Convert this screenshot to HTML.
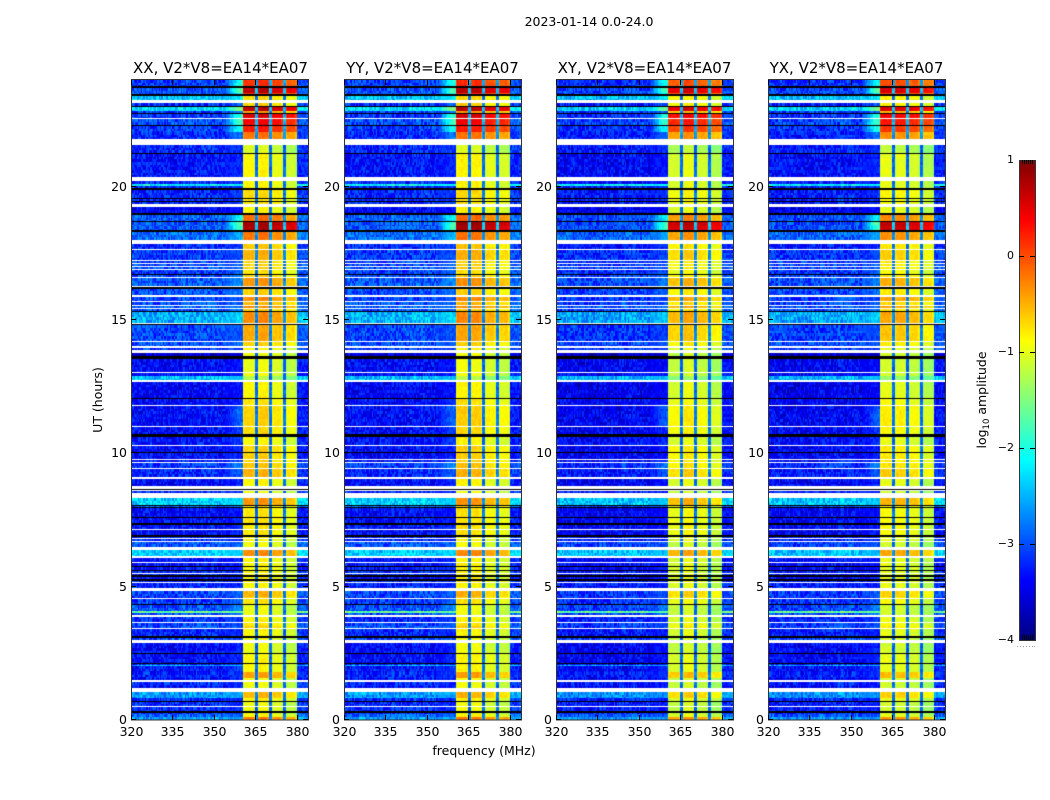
<!DOCTYPE html>
<html>
<head>
<meta charset="utf-8">
<title>2023-01-14 0.0-24.0</title>
<style>
html,body{margin:0;padding:0;background:#fff;}
#fig{position:relative;width:1050px;height:800px;overflow:hidden;background:#fff;}
canvas{position:absolute;display:block;}
svg{position:absolute;left:0;top:0;}
text{font-family:"DejaVu Sans",sans-serif;fill:#000;}
</style>
</head>
<body>
<div id="fig">
<canvas id="hm0" width="177" height="640" style="left:131px;top:80px"></canvas>
<canvas id="hm1" width="177" height="640" style="left:344px;top:80px"></canvas>
<canvas id="hm2" width="177" height="640" style="left:556px;top:80px"></canvas>
<canvas id="hm3" width="177" height="640" style="left:768px;top:80px"></canvas>
<canvas id="cbar" width="16" height="480" style="left:1019px;top:160px"></canvas>
<svg id="ov" width="1050" height="800" xmlns="http://www.w3.org/2000/svg">
<text x="589" y="26" font-size="12.5" text-anchor="middle">2023-01-14 0.0-24.0</text>
<text x="220.5" y="73" font-size="15" text-anchor="middle">XX, V2*V8=EA14*EA07</text>
<text x="432.5" y="73" font-size="15" text-anchor="middle">YY, V2*V8=EA14*EA07</text>
<text x="644.5" y="73" font-size="15" text-anchor="middle">XY, V2*V8=EA14*EA07</text>
<text x="856.5" y="73" font-size="15" text-anchor="middle">YX, V2*V8=EA14*EA07</text>
<text x="484" y="755" font-size="12.5" text-anchor="middle">frequency (MHz)</text>
<text transform="translate(102,400) rotate(-90)" font-size="12.5" text-anchor="middle">UT (hours)</text>
<text transform="translate(986,400) rotate(-90)" font-size="12.5" text-anchor="middle">log<tspan font-size="8.5" dy="3">10</tspan><tspan dy="-3"> amplitude</tspan></text>
</svg>
</div>
<script>
// ---- data ----
const W = null, K = -9; // W: flagged (white) rows, K: zero-amplitude (black) rows
const panelNames = ['xx', 'yy', 'xy', 'yx'];
const xTickLabels = [320, 335, 350, 365, 380];
const yTickLabels = [0, 5, 10, 15, 20];
const colorbarTicks = [1, 0, -1, -2, -3, -4];
// lower edge (hours) of each time row, from the top of the plot downward
const rowLow = [
23.76,23.70,23.51,23.46,23.40,23.25,23.14,23.03,22.97,22.84,
22.76,22.71,22.59,22.52,22.33,22.28,22.05,21.77,21.56,21.28,
21.23,20.36,20.21,20.10,20.03,19.95,19.88,19.59,19.55,19.46,
19.43,19.35,19.24,19.01,18.94,18.73,18.68,18.54,18.51,18.38,
18.30,18.0,17.85,17.66,17.63,17.25,17.21,17.14,17.10,17.03,
16.98,16.93,16.89,16.73,16.69,16.61,16.58,16.28,16.24,16.18,
15.94,15.86,15.71,15.66,15.56,15.53,15.45,15.40,15.34,15.30,
14.89,14.85,14.80,14.21,14.17,14.03,13.95,13.88,13.75,13.65,
13.53,13.05,13.01,12.90,12.75,12.68,12.08,12.04,11.81,11.78,
11.03,10.99,10.73,10.62,10.31,10.28,10.05,10.01,9.79,9.75,
9.68,9.64,9.45,9.41,9.11,9.04,8.76,8.66,8.63,8.59,
8.51,8.33,8.06,8.03,7.99,7.95,7.63,7.59,7.37,7.33,
7.18,7.14,6.92,6.88,6.83,6.79,6.73,6.69,6.49,6.38,
6.15,6.08,5.91,5.87,5.76,5.72,5.63,5.59,5.53,5.49,
5.42,5.38,5.27,5.23,5.16,5.12,4.95,4.84,4.61,4.56,
4.52,4.35,4.31,4.07,4.01,3.94,3.88,3.66,3.62,3.54,
3.51,3.45,3.41,3.15,3.08,3.0,2.89,2.51,2.48,2.14,
2.10,2.06,2.02,1.80,1.58,1.50,1.43,1.29,1.26,1.20,
1.05,.83,.73,.69,.51,.47,.32,.28,.24,.21,
.11,0];
// off-band background log10 amplitude per row
const rowBg = [
-3.1,K,-3.0,-3.0,K,-2.4,W,-3.2,K,-2.3,
-3.1,K,-3.1,W,-3.0,K,-3.1,-3.2,W,-3.2,
K,-3.3,W,-3.2,-2.1,-3.2,K,-3.2,K,-3.2,
K,-3.2,W,-3.4,K,-2.95,K,-2.95,K,-2.95,
K,-2.85,W,-3.2,W,-3.1,W,-3.1,W,-3.05,
W,-3.0,W,-3.1,K,-3.0,W,-2.95,W,K,
-3.0,W,-3.05,W,-3.0,W,-2.9,W,-3.0,K,
-2.5,W,K,-3.05,W,-3.0,W,-3.1,W,-3.6,
K,-3.35,W,-3.35,-2.45,W,-3.4,K,-3.35,W,
-3.35,W,-3.35,K,-3.3,W,-3.35,K,-3.35,W,
-3.3,W,-3.1,W,-3.2,W,-3.35,W,K,W,
-3.2,W,-2.35,K,-2.9,K,-3.35,K,-3.35,K,
-3.3,W,-3.35,K,-3.2,W,-3.2,W,-3.0,W,
-2.35,W,-3.3,W,-3.3,K,-3.3,K,-3.2,W,
-3.2,K,-3.35,K,-3.2,W,-3.2,W,-3.05,-3.2,
W,-3.1,K,-3.0,-1.6,-3.0,W,-3.2,W,-3.05,
W,-3.0,W,-3.2,K,-3.05,W,-3.35,K,-3.35,
K,-3.2,-2.5,-3.3,-3.2,-3.35,W,-3.2,K,-3.35,
W,-2.6,-3.2,K,-3.2,W,-3.2,K,-3.1,K,
-2.9,-2.6];
// in-band log10 amplitude per row
const rowBand = [
.1,0,.65,.1,0,-.75,0,-.7,0,.65,
-.45,0,.5,0,.35,0,.2,-.25,0,-1.1,
0,-.9,0,-.9,-.9,-.9,0,-.75,0,-.8,
0,-.8,0,-.9,0,-.2,0,.8,0,.72,
0,-.25,0,-.65,0,-.55,0,-.7,0,-.7,
0,-.7,0,-.8,0,-.7,0,-.4,0,0,
-.7,0,-.35,0,-.6,0,-.35,0,-.7,0,
-.35,0,0,-.5,0,-.7,0,-.9,0,-1,
0,-1,0,-1,-1.3,0,-.9,0,-.8,0,
-.7,0,-.75,0,-.9,0,-.7,0,-.7,0,
-.7,0,-.65,0,-.55,0,-.9,0,0,0,
-1,0,-.4,0,-.8,0,-.8,0,-.8,0,
-.8,0,-.8,0,-.9,0,-.9,0,-1,0,
-.35,0,-.9,0,-.9,0,-.9,0,-.9,0,
-.9,0,-.9,0,-.8,0,-.9,0,-.55,-.7,
0,-.8,0,-1,-1,-1,0,-.9,0,-.8,
0,-.7,0,-.9,0,-1,0,-1,0,-.9,
0,-.9,-.9,-.9,-.45,-1,0,-1,0,-1,
0,-.55,-.9,0,-1,0,-1,0,-1,0,
-.9,-.25];
// log10 amplitude of the shoulder just below the band edge, per row
const rowEdge = [
-2.0,0,-1.7,-2.1,0,-2.2,0,-2.9,0,-1.5,
-2.8,0,-1.9,0,-1.8,0,-2,-2.8,0,-3.1,
0,-3.2,0,-3.2,-2.1,-3.1,0,-3.1,0,-3.1,
0,-3.1,0,-3.3,0,-2.1,0,-1.7,0,-1.8,
0,-2.5,0,-3.1,0,-3,0,-3,0,-2.9,
0,-2.9,0,-2.9,0,-2.8,0,-2.7,0,0,
-2.8,0,-3,0,-2.9,0,-2.8,0,-2.8,0,
-2.3,0,0,-3,0,-2.9,0,-3.1,0,-3.6,
0,-3.3,0,-3.2,-2.4,0,-3.3,0,-3.2,0,
-2.9,0,-3.1,0,-3.1,0,-3.2,0,-3.2,0,
-3.1,0,-2.7,0,-2.9,0,-3.2,0,0,0,
-3.2,0,-2.35,0,-2.8,0,-3.3,0,-3.2,0,
-3.2,0,-3.2,0,-3.2,0,-3.2,0,-2.9,0,
-2.35,0,-3.2,0,-3.2,0,-3.2,0,-3.2,0,
-3.2,0,-3.2,0,-3.2,0,-3.2,0,-2.9,-3.1,
0,-2.9,0,-2.7,-1.6,-2.7,0,-3.1,0,-3.0,
0,-2.9,0,-3.2,0,-3,0,-3.2,0,-3.2,
0,-3.2,-2.5,-3.1,-3.1,-3.2,0,-3.2,0,-3.2,
0,-2.6,-3.2,0,-3.2,0,-3.2,0,-3.1,0,
-2.9,-2.6];
// spectral-window edges in MHz
const windowLow = [360.7, 366.0, 370.9, 375.8];
const windowHigh = [365.1, 370.1, 375.1, 380.1];
// per-panel, per-window offsets on the in-band level
const windowGainXX = [0.03, 0.08, -0.06, -0.2];
const windowGainYY = [0.08, 0.06, -0.1, -0.18];
const windowGainXY = [-0.18, -0.06, -0.18, -0.34];
const windowGainYX = [-0.08, -0.1, -0.18, -0.34];
const panelBg = [0, 0, -0.08, -0.05];
// gentle background trend per 8 MHz from 320 MHz
const bgTrend = [0.0, -0.03, 0.0, 0.03, 0.0, 0.06, 0.12, 0.1, 0.03];
// small cell-to-cell scatter seen on the background
const speckle = [.18,-.22,.05,.31,-.12,-.29,.09,.24,-.05,-.18,.27,-.33,.14,.02,-.24,.2,-.09,.33,-.16,.07,
-.27,.12,.29,-.03,-.2,.16,-.31,.23,.0,-.14,.1,.26,-.25,.04,-.1,.3,-.19,.13,-.35,.21,
-.07,.17,-.28,.06,.25,-.15,.01,.34,-.23,.11,-.04,-.3,.19,.08,-.17,.28,-.11,.03,-.26,.15,.22];

// ---- axes ----
const plotHeight = 640, hMax = 24;
const pxPerMHz = 2.76;
function xScale(f) { return (f - 320) * pxPerMHz; }
function yScale(h) { return (hMax - h) * plotHeight / hMax; }
function cbScale(v) { return (1 - v) * 96; }
function clamp(x) { return Math.max(0, Math.min(1, x)); }
function jet(v) {
  const x = clamp((v + 4) / 5);
  const r = clamp(Math.min(4 * x - 1.5, -4 * x + 4.5));
  const g = clamp(Math.min(4 * x - 0.5, -4 * x + 3.5));
  const b = clamp(Math.min(4 * x + 0.5, -4 * x + 2.5));
  return 'rgb(' + Math.round(r * 255) + ',' + Math.round(g * 255) + ',' + Math.round(b * 255) + ')';
}
function cellValue(r, f, p, gains, i, j) {
  const s = speckle[(i * i * 3 + j * j * 7 + i * j * 5 + p * 13) % speckle.length];
  const bg = rowBg[r] + panelBg[p];
  for (let w = 0; w < windowLow.length; w++) {
    if (f >= windowLow[w] && f < windowHigh[w]) {
      const nearEdge = (f - windowLow[w] < 0.5 || windowHigh[w] - f < 0.5) ? -0.12 : 0;
      return rowBand[r] + gains[w] + nearEdge + s * 0.22;
    }
  }
  if (f >= windowLow[0] && f < windowHigh[3]) return -2.6 + rowBand[r] * 0.3 + s * 0.4;
  const t = bgTrend[Math.min(bgTrend.length - 1, Math.floor((f - 320) / 8))] || 0;
  if (f >= windowHigh[3]) return bg + 0.1 + s * 0.7;
  let v = bg + t;
  if (f > 354) v = v + (rowEdge[r] + panelBg[p] - v) * Math.min(1, (f - 354) / 5);
  return v + s * (f > 354 ? 0.5 : 1);
}
const panelGains = [windowGainXX, windowGainYY, windowGainXY, windowGainYX];
const cellHours = 0.1, cellMHz = 0.5;
panelNames.forEach(function (name, p) {
  const ctx = document.getElementById('hm' + p).getContext('2d');
  let hi = hMax;
  rowLow.forEach(function (lo, r) {
    const y0 = Math.round(yScale(hi)), y1 = Math.round(yScale(lo));
    if (rowBg[r] === W || rowBg[r] === K) {
      ctx.fillStyle = rowBg[r] === W ? '#fff' : '#000';
      ctx.fillRect(0, y0, 177, Math.max(1, y1 - y0));
    } else {
      for (let h = hi, i = Math.round(hi * 10); h > lo + 1e-6; h -= cellHours, i--) {
        const yt = Math.round(yScale(h));
        const yb = Math.max(yt + 1, Math.round(yScale(Math.max(lo, h - cellHours))));
        for (let j = 0, f = 320; f < 384; f += cellMHz, j++) {
          const x0 = Math.round(xScale(f));
          const x1 = Math.round(xScale(f + cellMHz));
          ctx.fillStyle = jet(cellValue(r, f + cellMHz / 2, p, panelGains[p], i, j));
          ctx.fillRect(x0, yt, x1 - x0, yb - yt);
        }
      }
    }
    hi = lo;
  });
});
// colorbar gradient
(function () {
  const ctx = document.getElementById('cbar').getContext('2d');
  for (let y = 0; y < 480; y++) {
    ctx.fillStyle = jet(1 - y / 96);
    ctx.fillRect(0, y, 16, 1);
  }
})();

// ---- overlay marks ----
const ov = document.getElementById('ov');
const NS = 'http://www.w3.org/2000/svg';
const panelLeft = [131, 344, 556, 768];
const panelW = 177, panelTop = 80, panelBottom = 720;
function line(x1, y1, x2, y2, w, c) {
  const el = document.createElementNS(NS, 'line');
  el.setAttribute('x1', x1);
  el.setAttribute('y1', y1);
  el.setAttribute('x2', x2);
  el.setAttribute('y2', y2);
  el.setAttribute('stroke', c || '#000');
  el.setAttribute('stroke-width', w || 1);
  ov.appendChild(el);
  return el;
}
function label(x, y, s, anchor) {
  const el = document.createElementNS(NS, 'text');
  el.setAttribute('x', x);
  el.setAttribute('y', y);
  el.setAttribute('font-size', '12.5');
  el.setAttribute('text-anchor', anchor);
  el.textContent = s;
  ov.appendChild(el);
  return el;
}
panelLeft.forEach(function (L, p) {
  const frame = document.createElementNS(NS, 'rect');
  frame.setAttribute('x', L + 0.5);
  frame.setAttribute('y', panelTop - 0.5);
  frame.setAttribute('width', panelW);
  frame.setAttribute('height', panelBottom - panelTop + 0.5);
  frame.setAttribute('fill', 'none');
  frame.setAttribute('stroke', '#333');
  frame.setAttribute('stroke-width', '1');
  
  
  ov.appendChild(frame);
  xTickLabels.forEach(function (t) {
    const x = Math.round(L + xScale(t)) + 0.5;
    const tb = line(x, panelBottom, x, panelBottom - 5);
    
    
    const tt = line(x, panelTop, x, panelTop + 5);
    
    
    const tl = label(x, panelBottom + 16, String(t), 'middle');
    
    
  });
  yTickLabels.forEach(function (t) {
    const y = Math.round(panelTop + yScale(t)) - 0.5;
    const tl0 = line(L, y, L + 5, y);
    
    
    const tr0 = line(L + panelW, y, L + panelW - 5, y);
    
    
    const yl = label(L - 4, y + 4.5, String(t), 'end');
    
    
  });
});
// colorbar frame, ticks and labels
const cbX0 = 1019, cbX1 = 1035, cbTop = 160;
const cbFrame = document.createElementNS(NS, 'rect');
cbFrame.setAttribute('x', cbX0 + 0.5);
cbFrame.setAttribute('y', cbTop + 0.5);
cbFrame.setAttribute('width', cbX1 - cbX0);
cbFrame.setAttribute('height', 480);
cbFrame.setAttribute('fill', 'none');
cbFrame.setAttribute('stroke', '#333');


ov.appendChild(cbFrame);
colorbarTicks.forEach(function (t) {
  const y = cbTop + cbScale(t);
  const yy = Math.round(y) + 0.5;
  if (t > -4 && t < 1) {
    const a = line(cbX0, yy, cbX0 + 5, yy);
    
    
    const b = line(cbX1 - 5, yy, cbX1, yy);
    
    
  }
  const s = t < 0 ? '\u2212' + Math.abs(t) : String(t);
  const tl = label(1014, y + 3, s, 'end');
  tl.setAttribute('font-size', '11');
  
  
});
[1022, 1024, 1026, 1028, 1030, 1032].forEach(function (x) {
  const a = line(x + 0.5, cbTop, x + 0.5, cbTop + 4);
  
  
  const b = line(x + 0.5, cbTop + 475, x + 0.5, cbTop + 480);
  
  
});
[1017, 1020, 1023, 1026, 1029, 1032, 1034].forEach(function (x) {
  const d = line(x, 646.5, x + 1, 646.5, 1, '#999');
  
  
});
</script>
</body>
</html>
